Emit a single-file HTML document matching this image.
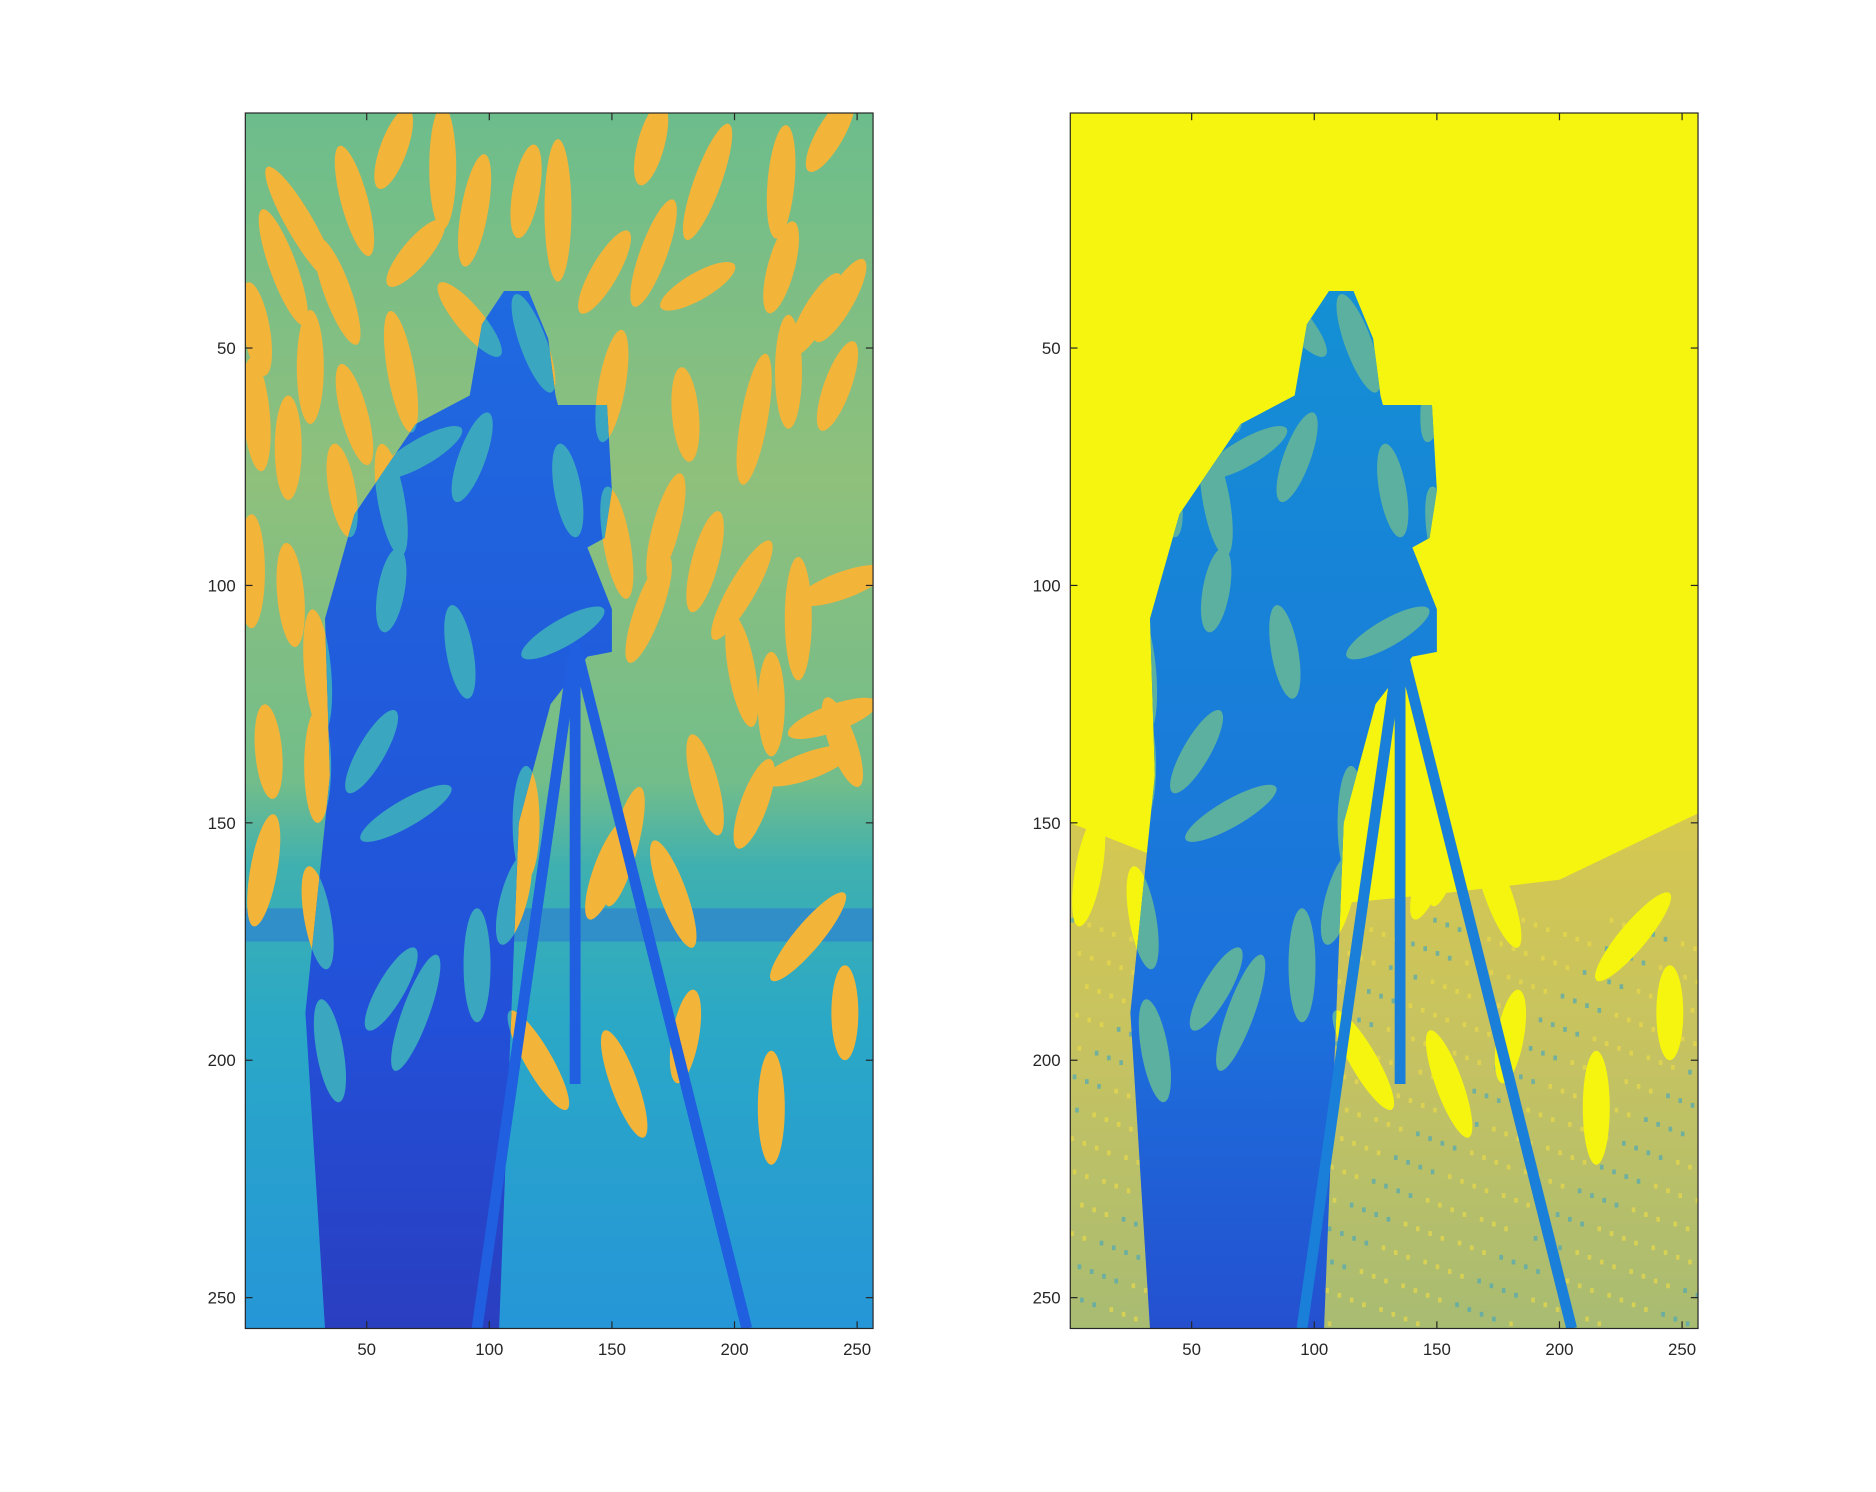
<!DOCTYPE html>
<html><head><meta charset="utf-8"><style>
html,body{margin:0;padding:0;background:#fff;}
svg{display:block;}
text{font-family:"Liberation Sans",sans-serif;font-size:14px;fill:#262626;}
</style></head><body>
<svg id="fig" width="1876" height="1492" viewBox="0 0 1560 1241" preserveAspectRatio="none" xmlns="http://www.w3.org/2000/svg">
<defs>
<linearGradient id="gL" x1="0" y1="0" x2="0" y2="1">
<stop offset="0" stop-color="#6cbd8c"/><stop offset="0.3" stop-color="#8fc07c"/><stop offset="0.55" stop-color="#72bd8a"/>
<stop offset="0.62" stop-color="#3fb0b0"/><stop offset="0.75" stop-color="#2aa8c6"/><stop offset="1" stop-color="#2596d8"/>
</linearGradient>
<linearGradient id="gR" x1="0" y1="0" x2="0" y2="1">
<stop offset="0" stop-color="#d6c850"/><stop offset="0.5" stop-color="#c4c262"/><stop offset="1" stop-color="#a8bc72"/>
</linearGradient>
<linearGradient id="gM" x1="0" y1="0" x2="0" y2="1">
<stop offset="0" stop-color="#1f6ae0"/><stop offset="0.7" stop-color="#2250d8"/><stop offset="1" stop-color="#2a3ec0"/>
</linearGradient>
<linearGradient id="gMR" x1="0" y1="0" x2="0" y2="1">
<stop offset="0" stop-color="#1490d4"/><stop offset="0.7" stop-color="#1c70dc"/><stop offset="1" stop-color="#2450d0"/>
</linearGradient>
</defs>
<g id="panels"></g>
</svg>
<script>
const xTicks=[50,100,150,200,250];
const yTicks=[50,100,150,200,250];
// grains: image (data) coordinates
const grainCol=[23,45,61,81,94,115,128,147,167,189,166,219,239,243,219,185,16,38,70,92,5,27,45,64,118,150,180,208,222,233,242,5,18,40,60,72,93,132,152,172,188,203,226,244,3,19,30,60,88,130,165,203,215,240,10,30,52,66,115,155,188,208,230,244,8,30,60,95,110,148,175,230,245,35,70,120,155,180,215];
const grainRow=[24,19,8,12,21,17,21,34,30,15,7,15,5,40,33,37,33,38,30,44,46,54,64,55,49,58,64,65,55,43,58,64,71,80,82,72,73,80,91,88,95,101,107,100,97,102,118,101,114,110,105,118,125,128,135,138,135,148,150,155,142,146,138,133,160,170,185,180,166,160,165,174,190,198,190,200,205,195,210];
const grainAng=[-30,-15,20,0,10,10,0,30,20,20,15,5,30,30,15,60,-20,-20,40,-40,-10,0,-15,-10,-20,10,-5,10,0,30,20,-5,0,-10,-10,60,20,-10,-10,15,15,30,0,70,0,-5,-5,10,-10,60,20,-10,0,70,-5,0,30,60,0,15,-15,20,70,-20,10,-10,30,0,15,20,-20,40,0,-10,20,-30,-20,10,0];
const grainLen=[14,12,9,13,12,10,15,10,12,13,9,12,9,10,10,9,13,12,9,10,10,12,11,13,11,12,10,14,12,10,10,12,11,10,12,10,10,10,12,12,11,12,13,10,12,11,13,9,10,10,12,12,11,10,10,12,10,11,12,13,11,10,10,10,12,11,10,12,10,11,12,12,10,11,13,12,12,10,12];
const panels=[
 {x0:204,name:'left-image',bg:'url(#gL)',man:'url(#gM)',grainOut:'#f3b43a',grainIn:'#3aa6c0',right:false},
 {x0:890,name:'right-image',bg:'#f5f50f',man:'url(#gMR)',grainOut:'#f5f50f',grainIn:'#5cb0a0',right:true}
];
const Y0=94,W=522,H=1011,N=256;
const NS='http://www.w3.org/2000/svg';
const root=document.getElementById('panels');
function mk(t,a,p){const e=document.createElementNS(NS,t);for(const k in a)e.setAttribute(k,a[k]);(p||root).appendChild(e);return e;}
panels.forEach((P,pi)=>{
 const sx=c=>P.x0+(c-0.5)*W/N, sy=r=>Y0+(r-0.5)*H/N;
 const g=mk('g',{});
 
 
 const cid='clip'+pi, mid='man'+pi;
 const cp=mk('clipPath',{id:cid},g);mk('rect',{x:P.x0,y:Y0,width:W,height:H},cp);
 const inner=mk('g',{'clip-path':'url(#'+cid+')'},g);
 mk('rect',{x:P.x0,y:Y0,width:W,height:H,fill:P.bg},inner);
 if(P.right){
   mk('polygon',{points:[[0.5,150],[40,158],[90,168],[150,165],[200,162],[256.5,148],[256.5,256.5],[0.5,256.5]].map(p=>sx(p[0])+','+sy(p[1])).join(' '),fill:'url(#gR)'},inner);
   for(let i=0;i<600;i++){const c=((i*37)%256)+0.5,r=170+((i*53)%86);mk('rect',{x:sx(c),y:sy(r),width:3,height:4,fill:i%3?'#e8d84a':'#4fa8b8',opacity:0.7},inner);}
 } else {
   mk('rect',{x:sx(0.5),y:sy(168),width:W,height:sy(175)-sy(168),fill:'#2a70d8',opacity:0.5},inner);
 }
 const manPts=[[70,66],[92,60],[97,45],[106,38],[116,38],[124,48],[127,60],[128,62],[148,62],[150,80],[147,90],[140,92],[150,105],[150,114],[140,115],[125,125],[112,150],[104,256.5],[33,256.5],[25,190],[35,140],[33,107],[45,85]];
 const mcp=mk('clipPath',{id:mid},g);
 mk('polygon',{points:manPts.map(p=>sx(p[0])+','+sy(p[1])).join(' ')},mcp);
 for(let i=0;i<grainCol.length;i++){
   const el=mk('ellipse',{cx:sx(grainCol[i]),cy:sy(grainRow[i]),rx:5.5*W/N,ry:grainLen[i]*H/N,fill:P.grainOut,transform:'rotate('+grainAng[i]+' '+sx(grainCol[i])+' '+sy(grainRow[i])+')'},inner);
   
   
 }
 const man=mk('polygon',{points:manPts.map(p=>sx(p[0])+','+sy(p[1])).join(' '),fill:P.man},inner);
 
 
 [[135,112,95,256.5],[135,112,205,256.5],[135,112,135,205]].forEach(l=>{
   const t=mk('line',{x1:sx(l[0]),y1:sy(l[1]),x2:sx(l[2]),y2:sy(l[3]),stroke:P.right?'#1a7fd8':'#1f5fe0','stroke-width':9},inner);
   
   
 });
 const ing=mk('g',{'clip-path':'url(#'+mid+')'},inner);
 for(let i=0;i<grainCol.length;i++){
   mk('ellipse',{cx:sx(grainCol[i]),cy:sy(grainRow[i]),rx:5.5*W/N,ry:grainLen[i]*H/N,fill:P.grainIn,transform:'rotate('+grainAng[i]+' '+sx(grainCol[i])+' '+sy(grainRow[i])+')'},ing);
 }
 const ax=mk('rect',{x:P.x0,y:Y0,width:W,height:H,fill:'none',stroke:'#262626','stroke-width':1},g);
 
 
 xTicks.forEach(v=>{
   const x=sx(v);
   mk('line',{x1:x,y1:Y0+H,x2:x,y2:Y0+H-6,stroke:'#262626'},g);
   mk('line',{x1:x,y1:Y0,x2:x,y2:Y0+6,stroke:'#262626'},g);
   const t=mk('text',{x:x,y:Y0+H+22,'text-anchor':'middle'},g);t.textContent=v;
   
   
 });
 yTicks.forEach(v=>{
   const y=sy(v);
   mk('line',{x1:P.x0,y1:y,x2:P.x0+6,y2:y,stroke:'#262626'},g);
   mk('line',{x1:P.x0+W,y1:y,x2:P.x0+W-6,y2:y,stroke:'#262626'},g);
   const t=mk('text',{x:P.x0-8,y:y+5,'text-anchor':'end'},g);t.textContent=v;
   
   
 });
});
</script>
</body></html>
